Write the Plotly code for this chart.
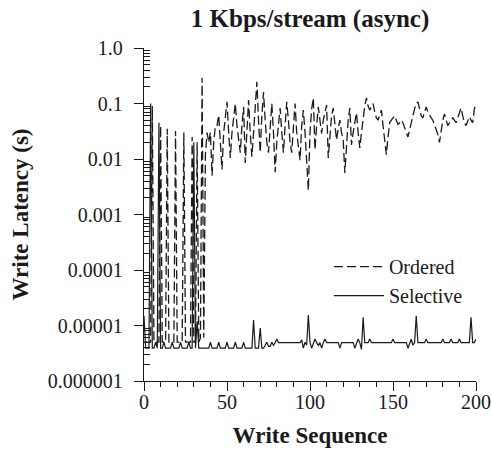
import plotly.graph_objects as go

# ---- data ----
write_seq = list(range(0, 201))

ordered_latency = [
    5e-6, 5e-6, 5e-6, 5e-6, 5e-6, 0.09, 5e-6, 5e-6, 5e-6, 5e-6,
    0.04, 5e-6, 5e-6, 5e-6, 0.035, 5e-6, 5e-6, 5e-6, 5e-6, 0.032,
    5e-6, 5e-6, 5e-6, 5e-6, 0.03, 5e-6, 5e-6, 5e-6, 5e-6, 0.025,
    5e-6, 5e-6, 0.02, 5e-6, 6e-6, 0.29, 6e-6, 0.012, 0.03, 0.02,
    0.03, 0.005, 0.02, 0.04, 0.04, 0.062, 0.02, 0.0065, 0.03, 0.06,
    0.107, 0.03, 0.0104, 0.03, 0.06, 0.1, 0.04, 0.02, 0.013, 0.04,
    0.087, 0.0085, 0.04, 0.115, 0.03, 0.011, 0.03, 0.08, 0.245, 0.05,
    0.013, 0.06, 0.16, 0.05, 0.02, 0.013, 0.04, 0.1, 0.03, 0.0058,
    0.02, 0.05, 0.083, 0.03, 0.013, 0.04, 0.107, 0.05, 0.02, 0.013,
    0.04, 0.1, 0.03, 0.015, 0.0095, 0.04, 0.076, 0.03, 0.01, 0.0027,
    0.03, 0.08, 0.126, 0.0146, 0.04, 0.087, 0.05, 0.029, 0.05, 0.07,
    0.094, 0.0104, 0.03, 0.06, 0.083, 0.04, 0.022, 0.035, 0.05, 0.03,
    0.022, 0.0056, 0.02, 0.05, 0.083, 0.018, 0.03, 0.05, 0.068, 0.03,
    0.0158, 0.03, 0.06, 0.09, 0.126, 0.09, 0.076, 0.09, 0.1, 0.07,
    0.055, 0.05, 0.06, 0.076, 0.04, 0.02, 0.012, 0.025, 0.045, 0.05,
    0.055, 0.06, 0.05, 0.042, 0.045, 0.05, 0.045, 0.035, 0.03, 0.025,
    0.035, 0.05, 0.06, 0.08, 0.1, 0.107, 0.08, 0.06, 0.055, 0.07,
    0.087, 0.07, 0.06, 0.055, 0.05, 0.04, 0.035, 0.028, 0.02, 0.035,
    0.05, 0.065, 0.05, 0.04, 0.045, 0.05, 0.055, 0.05, 0.045, 0.055,
    0.07, 0.083, 0.06, 0.045, 0.04, 0.05, 0.058, 0.05, 0.045, 0.08,
    0.1,
]

selective_latency = [
    1.5e-5, 3.9e-6, 3.9e-6, 3.9e-6, 0.1, 3.9e-6, 3.9e-6, 5e-6, 3.9e-6, 0.045,
    3.9e-6, 3.9e-6, 5e-6, 3.9e-6, 3.9e-6, 3.9e-6, 3.9e-6, 5e-6, 3.9e-6, 3.9e-6,
    3.9e-6, 3.9e-6, 5e-6, 3.9e-6, 3.9e-6, 3.9e-6, 3.9e-6, 5e-6, 3.9e-6, 3.9e-6,
    0.02, 3.9e-6, 1.2e-5, 3.9e-6, 3.9e-6, 3.9e-6, 3.9e-6, 3.9e-6, 3.9e-6, 3.9e-6,
    5e-6, 3.9e-6, 3.9e-6, 3.9e-6, 3.9e-6, 5e-6, 3.9e-6, 3.9e-6, 3.9e-6, 3.9e-6,
    5e-6, 3.9e-6, 3.9e-6, 3.9e-6, 3.9e-6, 5e-6, 3.9e-6, 3.9e-6, 3.9e-6, 3.9e-6,
    5e-6, 3.9e-6, 3.9e-6, 3.9e-6, 3.9e-6, 3.9e-6, 1.26e-5, 3.9e-6, 3.9e-6, 3.9e-6,
    9e-6, 3.9e-6, 3.9e-6, 4.4e-6, 5e-6, 4.2e-6, 4.2e-6, 5e-6, 4.4e-6, 4.9e-6,
    5.7e-6, 4.9e-6, 4.9e-6, 4.9e-6, 4.9e-6, 4.9e-6, 4.9e-6, 4.9e-6, 4.9e-6, 4.9e-6,
    4.9e-6, 4.9e-6, 4.9e-6, 4.9e-6, 4.9e-6, 5.5e-6, 3.9e-6, 5e-6, 4.4e-6, 1.55e-5,
    4.9e-6, 3.9e-6, 4.9e-6, 5.7e-6, 4.9e-6, 4.4e-6, 4.9e-6, 3.9e-6, 4.9e-6, 5.7e-6,
    4.9e-6, 4.9e-6, 4.9e-6, 4.9e-6, 4.9e-6, 4.9e-6, 4.9e-6, 4.9e-6, 3.9e-6, 4.9e-6,
    4.9e-6, 4.9e-6, 4.9e-6, 4.9e-6, 4.9e-6, 4.9e-6, 4.9e-6, 3.9e-6, 4.9e-6, 5.7e-6,
    4.9e-6, 3.7e-6, 1.4e-5, 4.9e-6, 4.9e-6, 4.9e-6, 5.7e-6, 4.9e-6, 4.9e-6, 4.9e-6,
    4.9e-6, 4.9e-6, 4.9e-6, 4.9e-6, 4.9e-6, 4.9e-6, 4.9e-6, 4.9e-6, 4.9e-6, 4.9e-6,
    5.7e-6, 4.9e-6, 4.9e-6, 4.9e-6, 4.9e-6, 4.9e-6, 4.9e-6, 4.9e-6, 4.9e-6, 3.9e-6,
    4.9e-6, 5.7e-6, 4.4e-6, 4.9e-6, 1.5e-5, 4.9e-6, 4.9e-6, 4.9e-6, 4.9e-6, 4.9e-6,
    5.7e-6, 4.9e-6, 4.9e-6, 4.9e-6, 4.9e-6, 4.9e-6, 4.9e-6, 4.9e-6, 4.9e-6, 4.9e-6,
    5.7e-6, 4.9e-6, 4.9e-6, 4.9e-6, 4.9e-6, 5.7e-6, 4.9e-6, 4.9e-6, 4.9e-6, 4.9e-6,
    5.7e-6, 4.9e-6, 4.9e-6, 4.9e-6, 4.9e-6, 4.9e-6, 4.9e-6, 1.4e-5, 4.9e-6, 4.9e-6,
    5.7e-6,
]

y_tick_values = [1e-6, 1e-5, 1e-4, 1e-3, 1e-2, 1e-1, 1.0]
y_tick_labels = ["0.000001", "0.00001", "0.0001", "0.001", "0.01", "0.1", "1.0"]
x_tick_values = [0, 50, 100, 150, 200]

# ---- figure ----
FONT = "Liberation Serif, Times New Roman, serif"
INK = "#1a1a1a"

minor_y = [m * 10.0 ** e for e in range(-6, 0) for m in range(2, 10)]

fig = go.Figure()
fig.add_trace(go.Scatter(
    x=write_seq, y=ordered_latency, mode="lines", name="Ordered",
    line=dict(color=INK, width=1.3, dash="9px,4px"),
))
fig.add_trace(go.Scatter(
    x=write_seq, y=selective_latency, mode="lines", name="Selective",
    line=dict(color=INK, width=1.2),
))

fig.update_layout(
    width=492, height=452,
    margin=dict(l=144, r=16, t=48, b=71, autoexpand=False),
    paper_bgcolor="white", plot_bgcolor="white",
    font=dict(family=FONT, size=20, color=INK),
    title=dict(text="<b>1 Kbps/stream (async)</b>", x=0.5, xref="paper",
               y=1 - 18 / 452, yref="container", yanchor="middle",
               font=dict(size=25)),
    showlegend=True,
    legend=dict(x=0.557, y=0.30, xref="paper", yref="paper",
                xanchor="left", yanchor="middle",
                bgcolor="rgba(0,0,0,0)", font=dict(size=20),
                itemwidth=50, tracegroupgap=0),
)

fig.update_xaxes(
    range=[0, 200], tickmode="array", tickvals=x_tick_values,
    showline=True, linecolor=INK, linewidth=1.3, mirror=False,
    ticks="outside", ticklen=9, tickwidth=1.2, tickcolor=INK,
    ticklabelstandoff=-6,
    minor=dict(ticks="outside", ticklen=5, tickwidth=1.2, tickcolor=INK, dtick=10),
    showgrid=False, zeroline=False, automargin=False,
    title=dict(text="<b>Write Sequence</b>", font=dict(size=23), standoff=14),
)

fig.update_yaxes(
    type="log", range=[-6, 0], tickmode="array",
    tickvals=y_tick_values, ticktext=y_tick_labels,
    showline=True, linecolor=INK, linewidth=1.3,
    ticks="outside", ticklen=9, tickwidth=1.2, tickcolor=INK,
    ticklabelstandoff=7,
    minor=dict(ticks="inside", ticklen=6, tickwidth=1.1, tickcolor=INK,
               tickmode="array", tickvals=minor_y),
    showgrid=False, zeroline=False, automargin=False,
    title=dict(text="<b>Write Latency (s)</b>", font=dict(size=23), standoff=12),
)

fig.write_html(
    "out.html",
    config={"displayModeBar": False},
    post_script="document.body.style.margin='0';document.body.style.padding='0';"
                "document.body.style.overflow='hidden';",
)
